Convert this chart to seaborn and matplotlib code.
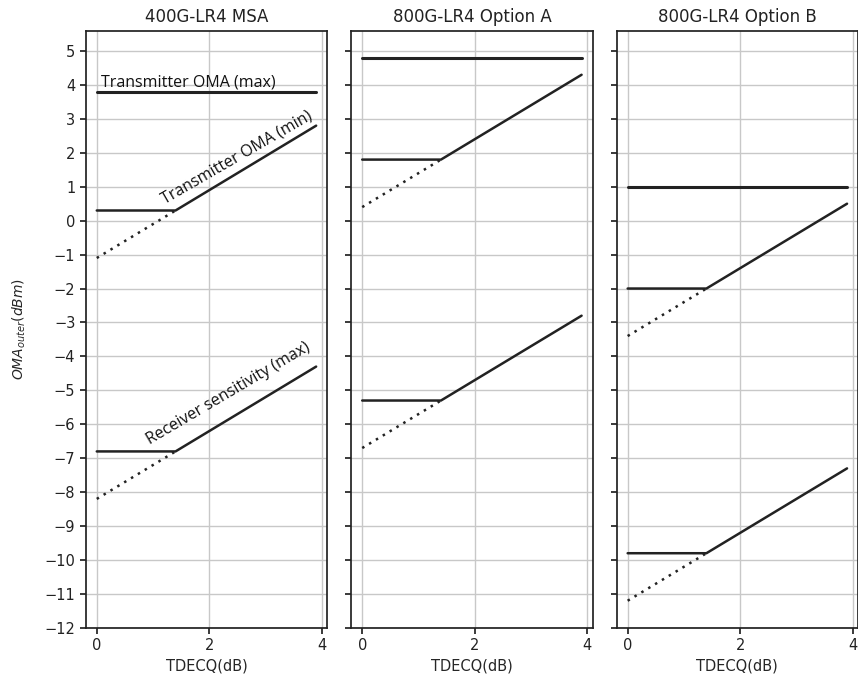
import numpy as np
import pandas as pd
import seaborn as sns
import matplotlib
matplotlib.use("Agg")
import matplotlib.pyplot as plt
from matplotlib.ticker import MultipleLocator

# --- Data ---
PANELS = ["400G-LR4 MSA", "800G-LR4 Option A", "800G-LR4 Option B"]
TDECQ_KNEE = [0.0, 1.4, 3.9]          # flat until 1.4 dB, then slope 1 dB/dB
TX_MAX = [3.8, 4.8, 1.0]
TX_MIN = [0.3, 1.8, -2.0]
RX_SENS = [-6.8, -5.3, -9.8]
LINE_COLOR = "#222222"

sns.set_theme(style="ticks")
plt.rcParams["font.family"] = ["DejaVu Sans"]


def knee_frame(level):
    """solid: flat up to knee then slope 1; dotted: slope-1 extension below knee"""
    x0, xk, x1 = TDECQ_KNEE
    solid = pd.DataFrame({"TDECQ": [x0, xk, x1],
                          "OMA": [level, level, level + (x1 - xk)]})
    dotted = pd.DataFrame({"TDECQ": [x0, xk],
                           "OMA": [level - (xk - x0), level]})
    return solid, dotted


fig, axes = plt.subplots(1, 3, figsize=(8.58, 6.81), dpi=100, sharey=True)
fig.subplots_adjust(left=0.1, right=1.0, bottom=0.078, top=0.955, wspace=0.1)

for i, ax in enumerate(axes):
    x0, xk, x1 = TDECQ_KNEE
    tx_max = pd.DataFrame({"TDECQ": [x0, x1], "OMA": [TX_MAX[i], TX_MAX[i]]})
    sns.lineplot(data=tx_max, x="TDECQ", y="OMA", ax=ax, color=LINE_COLOR, lw=2.2)
    for level in (TX_MIN[i], RX_SENS[i]):
        solid, dotted = knee_frame(level)
        sns.lineplot(data=solid, x="TDECQ", y="OMA", ax=ax, color=LINE_COLOR, lw=1.8)
        sns.lineplot(data=dotted, x="TDECQ", y="OMA", ax=ax, color=LINE_COLOR,
                     lw=1.8, linestyle=(0, (1, 2.2)))

    ax.set_title(PANELS[i], fontsize=12, color="#222222")
    ax.set_xlabel("TDECQ(dB)", fontsize=10.5)
    ax.set_ylabel("")
    ax.xaxis.set_major_locator(MultipleLocator(2))
    ax.yaxis.set_major_locator(MultipleLocator(1))
    ax.grid(True, color="#c8c8c8", lw=1)
    for s in ax.spines.values():
        s.set_visible(True)
        s.set_color("#222222")
    ax.tick_params(labelsize=10.5, colors="#222222", length=4)

axes[0].set_ylabel("$OMA_{outer}(dBm)$", fontsize=10, labelpad=12)

# annotations
ann_font = dict(family=["Open Sans", "DejaVu Sans"], fontsize=11.5, color="#111111")
axes[0].text(0.07, 3.95, "Transmitter OMA (max)", **ann_font)
axes[0].text(1.2, 0.5, "Transmitter OMA (min)", rotation=30,
             rotation_mode="anchor", **ann_font)
axes[0].text(0.95, -6.6, "Receiver sensitivity (max)", rotation=30.5,
             rotation_mode="anchor", **ann_font)

fig.savefig("out.png", dpi=100)
